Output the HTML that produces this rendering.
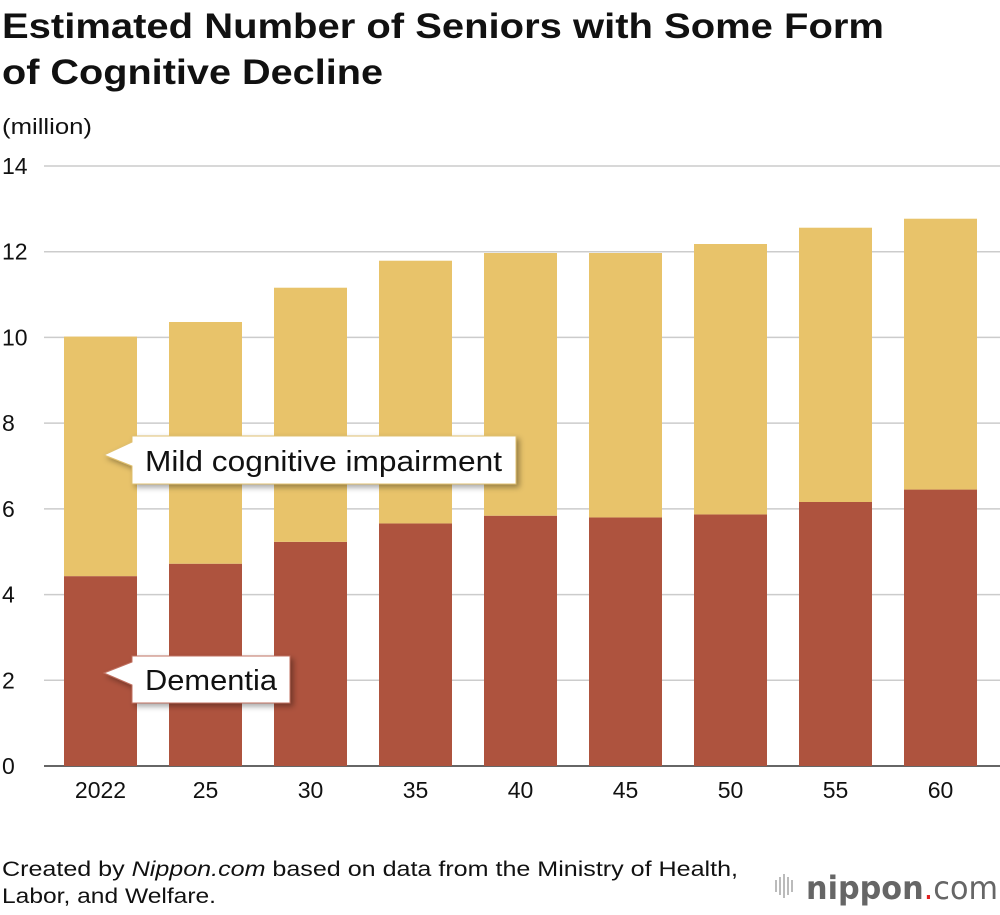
<!DOCTYPE html>
<html><head><meta charset="utf-8"><style>
body{margin:0;background:#fff;width:1000px;height:910px;overflow:hidden;font-family:"Liberation Sans",sans-serif}
</style></head><body>
<svg id="chart" width="1000" height="910" xmlns="http://www.w3.org/2000/svg">
<defs><filter id="sh" x="-10%" y="-20%" width="130%" height="160%"><feDropShadow dx="3" dy="3" stdDeviation="3" flood-color="#000" flood-opacity="0.35"/></filter></defs>
<text x="2" y="38" font-size="35" font-weight="bold" fill="#111" textLength="882" lengthAdjust="spacingAndGlyphs">Estimated Number of Seniors with Some Form</text>
<text x="2" y="84" font-size="35" font-weight="bold" fill="#111" textLength="381" lengthAdjust="spacingAndGlyphs">of Cognitive Decline</text>
<text x="2" y="134" font-size="22" fill="#111" textLength="90" lengthAdjust="spacingAndGlyphs">(million)</text>
<g id="grid"></g><g id="bars"></g><g id="xlabels"></g>
<g>
<path d="M104,455 L132,442 L132,436 L516,436 L516,484 L132,484 L132,466 Z" fill="#fff" stroke="#e0c070" stroke-width="1" filter="url(#sh)"/>
<text x="145" y="471" font-size="29" fill="#111" textLength="357" lengthAdjust="spacingAndGlyphs">Mild cognitive impairment</text></g>
<g>
<path d="M104,673 L132,662 L132,656 L290,656 L290,703 L132,703 L132,685 Z" fill="#fff" stroke="#c07060" stroke-width="1" filter="url(#sh)"/>
<text x="145" y="690" font-size="29" fill="#111" textLength="132" lengthAdjust="spacingAndGlyphs">Dementia</text></g>
<text x="2" y="876" font-size="21" fill="#111" textLength="736" lengthAdjust="spacingAndGlyphs">Created by <tspan font-style="italic">Nippon.com</tspan> based on data from the Ministry of Health,</text>
<text x="2" y="903" font-size="21" fill="#111" textLength="214" lengthAdjust="spacingAndGlyphs">Labor, and Welfare.</text>
<g>
<g fill="#bbb"><rect x="775" y="880" width="2" height="12"/><rect x="779" y="877" width="2" height="18"/><rect x="783" y="874" width="2" height="24"/><rect x="787" y="877" width="2" height="18"/><rect x="791" y="880" width="2" height="12"/></g>
<text x="806" y="899" font-size="32" font-family="'DejaVu Sans',sans-serif" fill="#666" textLength="192" lengthAdjust="spacingAndGlyphs"><tspan font-weight="bold">nippon</tspan><tspan fill="#e02020">.</tspan><tspan>com</tspan></text></g>
</svg>
<script>
const categories=["2022","25","30","35","40","45","50","55","60"];
const dementia=[4.43,4.72,5.23,5.66,5.84,5.80,5.87,6.16,6.45];
const mci=[5.59,5.64,5.93,6.13,6.13,6.17,6.31,6.40,6.32];
const yTicks=[0,2,4,6,8,10,12,14];
const NS="http://www.w3.org/2000/svg";
const y=v=>766-v*600/14;
const x=i=>64+i*105;
const bw=73;
function mk(t,a,p){const e=document.createElementNS(NS,t);for(const k in a)e.setAttribute(k,a[k]);p.appendChild(e);return e;}
const grid=document.getElementById('grid');
yTicks.forEach(t=>{
 const l=mk('line',{x1:44,x2:1000,y1:y(t),y2:y(t),stroke:t===0?'#333':'#ccc','stroke-width':1.5},grid);
 
 
 const tx=mk('text',{x:2,y:y(t)+8,'font-size':23,fill:'#111'},grid);tx.textContent=t;
 
 
});
const bars=document.getElementById('bars'),xl=document.getElementById('xlabels');
categories.forEach((c,i)=>{
 const d=mk('rect',{x:x(i),y:y(dementia[i]),width:bw,height:y(0)-y(dementia[i]),fill:'#ae533e'},bars);
 
 
 const tot=dementia[i]+mci[i];
 const m=mk('rect',{x:x(i),y:y(tot),width:bw,height:y(dementia[i])-y(tot),fill:'#e8c36a'},bars);
 
 
 const t=mk('text',{x:x(i)+bw/2,y:798,'font-size':23,fill:'#111','text-anchor':'middle'},xl);t.textContent=c;
 
 
});
</script>
</body></html>
